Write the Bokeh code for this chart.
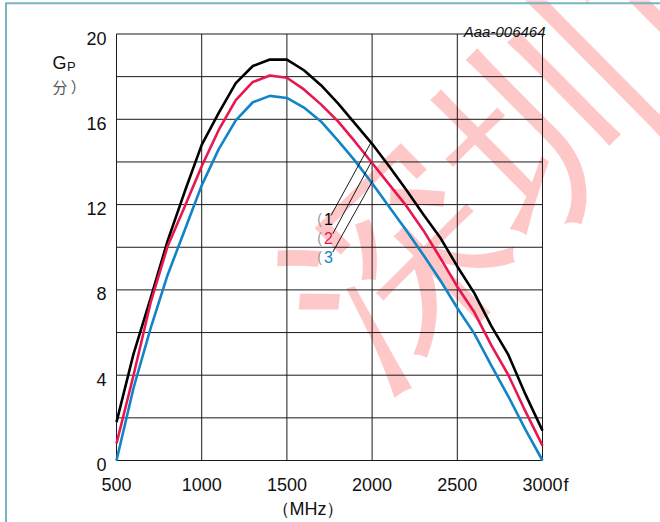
from bokeh.plotting import figure
from bokeh.core.properties import value
from bokeh.embed import file_html
from bokeh.resources import INLINE

# ---------------- data ----------------
freq = [500, 600, 700, 800, 900, 1000, 1100, 1200, 1300, 1400, 1500, 1600, 1700,
        1800, 1900, 2000, 2100, 2200, 2300, 2400, 2500, 2600, 2700, 2800, 2900, 3000]
gp_1 = [1.8, 5.0, 7.6, 10.3, 12.6, 14.8, 16.3, 17.7, 18.5, 18.8, 18.8, 18.3, 17.6,
        16.75, 15.8, 14.85, 13.8, 12.7, 11.55, 10.45, 9.1, 7.85, 6.3, 4.95, 3.1, 1.4]
gp_2 = [0.8, 4.0, 7.4, 10.05, 11.9, 13.8, 15.5, 16.9, 17.75, 18.05, 17.95, 17.4, 16.7,
        15.9, 14.95, 13.95, 12.95, 11.95, 10.8, 9.5, 8.15, 6.95, 5.4, 4.0, 2.3, 0.7]
gp_3 = [0.0, 3.4, 6.2, 8.7, 10.8, 12.9, 14.6, 15.95, 16.8, 17.1, 17.0, 16.55, 15.9,
        15.0, 14.05, 13.0, 11.9, 10.8, 9.65, 8.45, 7.15, 5.95, 4.45, 3.0, 1.45, 0.0]

curve_names = ["1", "2", "3"]
curve_colors = ["#000000", "#e8174f", "#1184c8"]

x_ticks = [500, 1000, 1500, 2000, 2500, 3000]
x_tick_labels = ["500", "1000", "1500", "2000", "2500", "3000"]
y_ticks = [0, 4, 8, 12, 16, 20]
y_tick_labels = ["0", "4", "8", "12", "16", "20"]
x_grid = [500, 1000, 1500, 2000, 2500, 3000]
y_grid = [0, 2, 4, 6, 8, 10, 12, 14, 16, 18, 20]

# callout leader lines (start near label -> end on curve)
lead_x0 = [1759, 1769, 1769]
lead_y0 = [11.49, 10.63, 9.77]
lead_x1 = [1994, 1994, 2004]
lead_y1 = [14.92, 13.98, 13.13]
callout_x = [1744, 1744, 1744]
callout_y = [11.34, 10.45, 9.56]

# ---------------- layout (pixel frame of the data area) ----------------
W, H = 660, 522
PL, PR, PT, PB = 116, 542, 33.5, 460   # data area in page pixels
X0, X1, Y0, Y1 = 500, 3000, 0, 20

def dx(px):
    return X0 + (px - PL) * (X1 - X0) / (PR - PL)
def dy(py):
    return Y0 + (PB - py) * (Y1 - Y0) / (PB - PT)

p = figure(width=W, height=H, x_range=(dx(0), dx(W)), y_range=(dy(H), dy(0)),
           x_axis_location=None, y_axis_location=None,
           toolbar_location=None, output_backend="svg", title=None,
           min_border=0, min_border_left=0, min_border_right=0,
           min_border_top=0, min_border_bottom=0)
p.background_fill_color = "white"
p.border_fill_color = "white"
p.outline_line_color = None
p.xgrid.visible = False
p.ygrid.visible = False

FONT = value("Liberation Sans")

def txt(px, py, s, size, color="#111111", align="left", baseline="middle",
        font=FONT, style="normal", angle=0.0, alpha=1.0):
    p.text(x=[dx(px)], y=[dy(py)], text=[s], text_align=align, text_baseline=baseline,
           text_font=font, text_font_size=value(size), text_color=color,
           text_font_style=style, angle=angle, text_alpha=alpha)

# watermark (rotated, drawn underneath everything)
txt(325, 340, "深圳市", "210px", color="#ffc8c8", angle=0.78,
    font=value("Noto Sans CJK SC Bold"), baseline="middle")

# teal page border (top and left)
p.segment(x0=[dx(4.5), dx(5.5)], y0=[dy(2.7), dy(2.7)], x1=[dx(700), dx(5.5)],
          y1=[dy(2.7), dy(560)], line_color="#79b4c2", line_width=2)

# grid + frame
p.segment(x0=x_grid, y0=[Y0] * len(x_grid), x1=x_grid, y1=[Y1] * len(x_grid),
          line_color="#1a1a1a", line_width=1)
p.segment(x0=[X0] * len(y_grid), y0=y_grid, x1=[X1] * len(y_grid), y1=y_grid,
          line_color="#1a1a1a", line_width=1)

# curves
for ys, c in zip([gp_1, gp_2, gp_3], curve_colors):
    p.line(freq, ys, line_color=c, line_width=2.6)

# leader lines
p.segment(x0=lead_x0, y0=lead_y0, x1=lead_x1, y1=lead_y1, line_color="#000000", line_width=0.9)

# callout labels
p.text(x=callout_x, y=callout_y, text=curve_names, text_color=curve_colors,
       text_font=FONT, text_font_size=value("16px"), text_align="center",
       text_baseline="middle")
p.text(x=callout_x, y=callout_y, x_offset=-9, text=["("] * 3, text_color="#999999",
       text_font=FONT, text_font_size=value("14px"), text_align="center",
       text_baseline="middle")

# tick labels
p.text(x=x_ticks, y=[dy(484)] * len(x_ticks), text=x_tick_labels, text_align="center",
       text_baseline="middle", text_font=FONT, text_font_size=value("18px"),
       text_color="#111111")
p.text(x=[dx(106)] * len(y_ticks), y=[v - (Y1 - Y0) * 4 / (PB - PT) for v in y_ticks],
       text=y_tick_labels, text_align="right", text_baseline="middle", text_font=FONT,
       text_font_size=value("18px"), text_color="#111111")

txt(563, 484, "f", "18px")
txt(307.5, 508, "（MHz）", "18px", align="center")
txt(52, 62, "G", "18px")
txt(66.5, 66, "P", "13px")
txt(52, 85.5, "分 ）", "15px", color="#555555", font=value("Noto Sans CJK SC"))
txt(545, 31, "Aaa-006464", "15px", align="right", baseline="alphabetic", style="italic")

open("out.html", "w").write(file_html(p, INLINE))
